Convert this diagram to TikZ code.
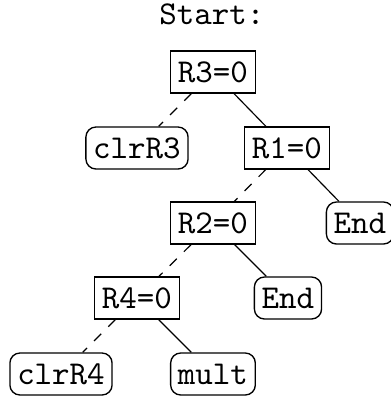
\documentclass[tikz,border=0pt]{standalone}
\begin{document}
\begin{tikzpicture}[x=0.3pt,y=-0.3pt,
  every node/.style={font=\ttfamily},
  test/.style={draw,rectangle,minimum height=12.6pt,inner xsep=2.2pt,inner ysep=0pt},
  leaf/.style={test,rounded corners=3pt},
  edge/.style={line width=0.35pt},
  noedge/.style={edge,dashed}]
\useasboundingbox (0,0) rectangle (391,396);
\node (start) at (212,14) {Start:};
\node[test] (r3) at (213,72) {R3=0};
\node[leaf] (clr3) at (137,148) {clrR3};
\node[test] (r1) at (287,148) {R1=0};
\node[test] (r2) at (213,223) {R2=0};
\node[leaf] (end1) at (360,223) {End};
\node[test] (r4) at (137,298) {R4=0};
\node[leaf] (end2) at (288,298) {End};
\node[leaf] (clr4) at (61,374) {clrR4};
\node[leaf] (mult) at (213,374) {mult};
\draw[noedge] (r3) -- (clr3);
\draw[edge] (r3) -- (r1);
\draw[noedge] (r1) -- (r2);
\draw[edge] (r1) -- (end1);
\draw[noedge] (r2) -- (r4);
\draw[edge] (r2) -- (end2);
\draw[noedge] (r4) -- (clr4);
\draw[edge] (r4) -- (mult);
\end{tikzpicture}
\end{document}
